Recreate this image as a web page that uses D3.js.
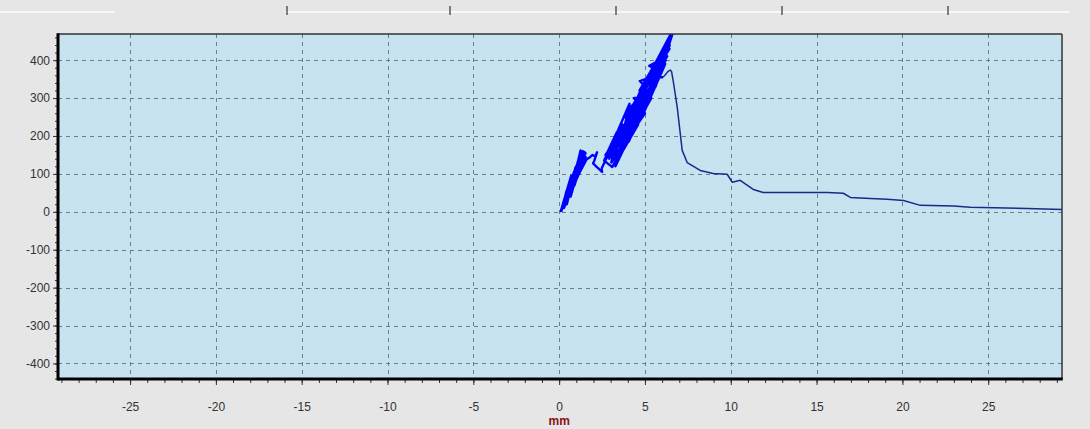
<!DOCTYPE html>
<html>
<head>
<meta charset="utf-8">
<script src="https://cdn.jsdelivr.net/npm/d3@7"></script>
<style>
  body{margin:0;background:#e6e6e6;}
  svg{display:block;}
</style>
</head>
<body>
<div class="container"></div>
<script>
const W = 1090, H = 429;

// axis ticks
const xTicks = [-25,-20,-15,-10,-5,0,5,10,15,20,25];
const yTicks = [-400,-300,-200,-100,0,100,200,300,400];
const xDomain = [-29.2, 29.3];
const yDomain = [-441, 469];

// first group of cycles, mm vs N
const cyclesLow = [
  [0.12,0],[0.50,60],[0.45,20],[0.82,90],[0.67,40],[1.11,110],[0.39,50],[1.09,130],
  [0.90,70],[1.42,150],[0.76,80],[1.38,160],[1.17,100],[1.54,145],[0.31,30],[1.27,125],
  [0.28,10],[1.07,95],[0.49,45],[1.54,155],[0.93,115],[1.38,140],[1.31,120],[1.47,158],
  [0.10,2],[0.70,95],[0.55,40],[1.40,125],[0.95,105],[1.25,162],[1.00,90],[1.62,140],
  [0.62,55],[1.20,150],[1.47,135],[1.80,144],[1.95,150],[2.10,146],[2.21,157],
  [2.05,135],[1.98,128],[2.20,118],[2.35,112],[2.50,105],[2.48,115]
];

// main group of cycles up to the peak
const cyclesHigh = [
  [2.48,115],[3.70,230],[2.91,140],[4.19,260],[3.22,150],[4.22,280],[3.65,170],[4.80,300],
  [3.28,120],[4.56,240],[3.04,130],[3.36,210],[2.84,160],[5.28,320],[3.33,190],[5.19,340],
  [4.15,200],[5.63,360],[4.58,230],[5.67,380],[3.85,250],[6.21,400],[4.75,270],[6.08,420],
  [5.23,290],[6.44,440],[4.66,310],[6.48,460],[5.62,330],[6.75,490],[5.11,350],[6.34,450],
  [5.20,300],[6.07,410],[4.92,260],[6.18,390],[4.19,225],[5.38,370],[4.05,185],[5.71,345],
  [2.70,150],[5.37,300],[3.36,140],[4.40,270],[3.36,175],[4.84,330],[4.17,215],[5.89,375],
  [3.10,118],[2.62,135],[3.55,225],[3.25,125],[4.60,230],[3.05,175],[4.10,285],[3.50,160],
  [5.00,260],[4.35,300],[5.40,310],[4.70,345],[5.95,365],[5.25,385],[6.30,410],
  [4.09,265],[6.43,430],[4.68,320],[6.61,470],[5.77,395],[6.64,480],[5.97,400],[5.53,355],
  [6.05,355]
];

// after the peak
const tail = [
  [6.05,355],[6.20,362],[6.32,369],[6.47,374],[6.55,370],[6.64,347],[6.88,276],
  [7.17,162],[7.46,130],[8.22,109],[8.98,101],[9.79,99],[10.09,78],[10.55,83],
  [11.31,59],[11.89,51],[15.62,51],[16.56,49],[16.97,38],[18.13,35],[19.12,33],
  [20.06,30],[21.05,17],[22.98,15],[23.96,12],[27.29,9],[29.30,6]
];

const m = {l:58, r:1062, t:34, b:379};
const font = 'Arial, "Liberation Sans", sans-serif';

const svg = d3.select('.container').append('svg')
  .attr('width', W).attr('height', H);

svg.append('rect').attr('width', W).attr('height', H).attr('fill', '#e6e6e6');

// strip at the top of the window
svg.append('line').attr('x1',0).attr('x2',115).attr('y1',12).attr('y2',12)
  .attr('stroke','#f7f7f7').attr('stroke-width',2);
svg.append('line').attr('x1',285).attr('x2',1070).attr('y1',12).attr('y2',12)
  .attr('stroke','#f7f7f7').attr('stroke-width',2);
[287,450,616,782,948].forEach(px=>{
  svg.append('line').attr('x1',px).attr('x2',px).attr('y1',6).attr('y2',15)
    .attr('stroke','#333').attr('stroke-width',1.2);
});

const x = d3.scaleLinear().domain(xDomain).range([m.l, m.r]);
const y = d3.scaleLinear().domain(yDomain).range([m.b, m.t]);

svg.append('rect')
  .attr('x', m.l).attr('y', m.t)
  .attr('width', m.r-m.l).attr('height', m.b-m.t)
  .attr('fill', '#c6e3ef');

svg.append('clipPath').attr('id','clip')
  .append('rect').attr('x', m.l).attr('y', m.t)
  .attr('width', m.r-m.l).attr('height', m.b-m.t);

// grid
const grid = svg.append('g').attr('stroke','#6f7c82').attr('stroke-width',1)
  .attr('stroke-dasharray','4,4');
grid.selectAll('.gx').data(xTicks).join('line')
  .attr('x1', d=>Math.round(x(d))+0.5).attr('x2', d=>Math.round(x(d))+0.5)
  .attr('y1', m.t).attr('y2', m.b);
grid.selectAll('.gy').data(yTicks).join('line')
  .attr('y1', d=>Math.round(y(d))+0.5).attr('y2', d=>Math.round(y(d))+0.5)
  .attr('x1', m.l).attr('x2', m.r);

// axes
const xMinor = d3.range(-29, 30, 1);
const yMinor = d3.range(-440, 461, 20);
const fmt = d => String(d);

const xAxis = svg.append('g').attr('transform', `translate(0,${m.b})`)
  .call(d3.axisBottom(x).tickValues(xMinor).tickSize(4).tickFormat(''));
xAxis.select('.domain').remove();
xAxis.selectAll('line').attr('stroke','#333');

const xAxisMaj = svg.append('g').attr('transform', `translate(0,${m.b})`)
  .call(d3.axisBottom(x).tickValues(xTicks).tickSize(6).tickPadding(17).tickFormat(fmt));
xAxisMaj.select('.domain').remove();
xAxisMaj.selectAll('line').attr('stroke','#333');
xAxisMaj.selectAll('text').attr('font-family',font)
  .attr('font-size',12).attr('fill','#333');

const yAxis = svg.append('g').attr('transform', `translate(${m.l},0)`)
  .call(d3.axisLeft(y).tickValues(yMinor).tickSize(3).tickFormat(''));
yAxis.select('.domain').remove();
yAxis.selectAll('line').attr('stroke','#333');

const yAxisMaj = svg.append('g').attr('transform', `translate(${m.l},0)`)
  .call(d3.axisLeft(y).tickValues(yTicks).tickSize(5).tickPadding(3).tickFormat(fmt));
yAxisMaj.select('.domain').remove();
yAxisMaj.selectAll('line').attr('stroke','#333');
yAxisMaj.selectAll('text').attr('font-family',font)
  .attr('font-size',12).attr('fill','#333');

// data
const line = d3.line().x(d=>x(d[0])).y(d=>y(d[1]));
const plot = svg.append('g').attr('clip-path','url(#clip)');
[cyclesLow, cyclesHigh].forEach(c=>{
  plot.append('path').datum(c).attr('d', line)
    .attr('fill','none').attr('stroke','#0000ff').attr('stroke-width',2.4)
    .attr('stroke-linejoin','round');
});
plot.append('path').datum(tail).attr('d', line)
  .attr('fill','none').attr('stroke','#1a2a8c').attr('stroke-width',1.5)
  .attr('stroke-linejoin','round');

// frame
svg.append('line').attr('x1',m.l).attr('x2',m.r).attr('y1',m.t).attr('y2',m.t)
  .attr('stroke','#333').attr('stroke-width',1.5);
svg.append('line').attr('x1',m.r).attr('x2',m.r).attr('y1',m.t).attr('y2',m.b)
  .attr('stroke','#333').attr('stroke-width',1.5);
svg.append('line').attr('x1',m.l).attr('x2',m.l).attr('y1',m.t-0.75).attr('y2',m.b+1.5)
  .attr('stroke','#000').attr('stroke-width',3);
svg.append('line').attr('x1',m.l).attr('x2',m.r+0.75).attr('y1',m.b).attr('y2',m.b)
  .attr('stroke','#000').attr('stroke-width',3);

// axis title
svg.append('text').attr('x', x(0)).attr('y', 425)
  .attr('text-anchor','middle')
  .attr('font-family',font)
  .attr('font-size',12).attr('font-weight','bold').attr('fill','#8b1010')
  .text('mm');
</script>
</body>
</html>
